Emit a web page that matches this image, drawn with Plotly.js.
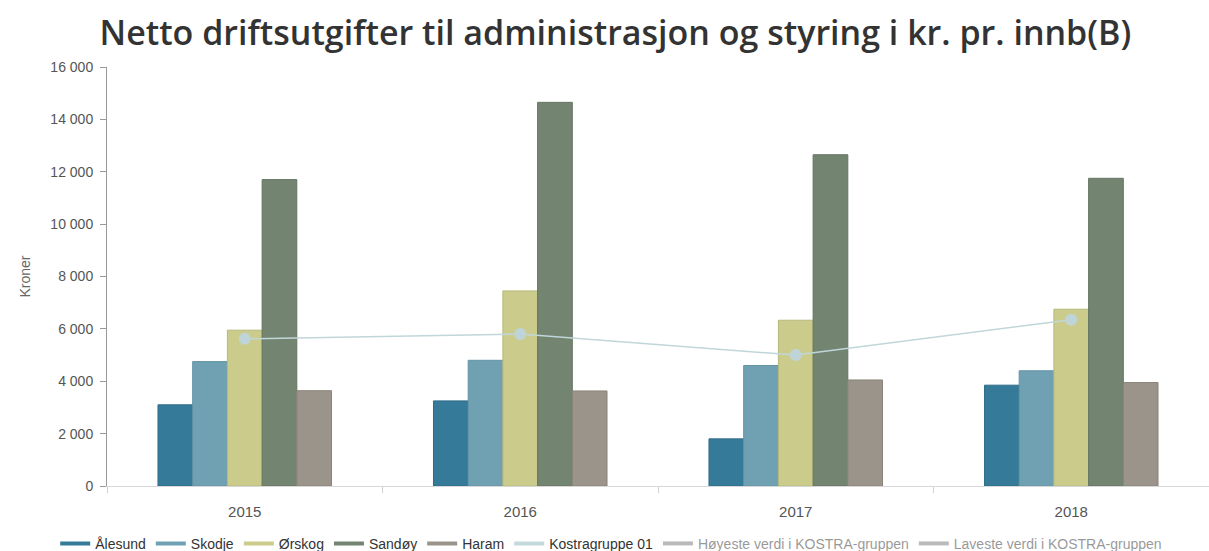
<!DOCTYPE html>
<html>
<head>
<meta charset="utf-8">
<script src="https://cdn.plot.ly/plotly-3.0.1.min.js"></script>
<style>html,body{margin:0;padding:0;background:#fff;}#chart{width:1209px;height:551px;}</style>
</head>
<body>
<div id="chart"></div>
<script>
const years = ['2015', '2016', '2017', '2018'];
const alesund = [3100, 3250, 1800, 3850];
const skodje = [4750, 4800, 4600, 4400];
const orskog = [5950, 7450, 6330, 6750];
const sandoy = [11700, 14650, 12650, 11750];
const haram = [3640, 3630, 4050, 3950];
const kostra = [5620, 5800, 5000, 6350];
const yTicks = [0, 2000, 4000, 6000, 8000, 10000, 12000, 14000, 16000];

const barSeries = [
  {name: 'Ålesund', y: alesund, color: '#367a99', edge: '#2f6c88'},
  {name: 'Skodje', y: skodje, color: '#70a1b3', edge: '#6393a5'},
  {name: 'Ørskog', y: orskog, color: '#cbcc8c', edge: '#b6b87a'},
  {name: 'Sandøy', y: sandoy, color: '#738470', edge: '#657663'},
  {name: 'Haram', y: haram, color: '#9b948a', edge: '#8b847a'}
];

const traces = [];
barSeries.forEach(s => {
  traces.push({
    type: 'bar', x: years, y: s.y, name: s.name, showlegend: false,
    marker: {color: s.color, line: {color: s.edge, width: 1}},
    hoverinfo: 'x+y+name'
  });
});
traces.push({
  type: 'scatter', mode: 'lines+markers', x: years, y: kostra, name: 'Kostragruppe 01',
  showlegend: false,
  line: {color: '#c0d6d8', width: 1.5},
  marker: {color: '#bfd4d6', size: 12}
});
// legend entries
const legendItems = barSeries.map(s => ({name: s.name, color: s.color, vis: true}))
  .concat([{name: 'Kostragruppe 01', color: '#c4d9db', vis: true},
           {name: 'Høyeste verdi i KOSTRA-gruppen', color: '#777', vis: 'legendonly'},
           {name: 'Laveste verdi i KOSTRA-gruppen', color: '#777', vis: 'legendonly'}]);
legendItems.forEach(l => {
  traces.push({
    type: 'scatter', mode: 'lines', x: [null], y: [null], name: l.name,
    visible: l.vis, showlegend: true, hoverinfo: 'skip',
    line: {color: l.color, width: 4}
  });
});

const layout = {
  width: 1209, height: 551,
  margin: {l: 107, r: 0, t: 67, b: 65, autoexpand: false},
  paper_bgcolor: '#fff', plot_bgcolor: '#fff',
  separators: ', ',
  barmode: 'group', bargap: 0.37, bargroupgap: 0,
  font: {family: 'Liberation Sans, Arial, sans-serif', color: '#333'},
  title: {
    text: 'Netto driftsutgifter til administrasjon og styring i kr. pr. innb(B)',
    font: {family: 'Open Sans, sans-serif', size: 34, weight: 600, color: '#333'},
    x: 0.509, xanchor: 'center', y: 0.94, yanchor: 'middle'
  },
  xaxis: {
    type: 'category', showgrid: false, zeroline: false,
    showline: true, linecolor: '#d8d8d8', linewidth: 1,
    ticks: 'outside', tickson: 'boundaries', ticklen: 6, tickcolor: '#d0d0d0',
    ticklabelstandoff: 12,
    tickfont: {size: 15, color: '#555'}, fixedrange: true
  },
  yaxis: {
    range: [0, 16000], tickvals: yTicks, tickformat: ',d',
    showgrid: false, zeroline: false,
    showline: true, linecolor: '#999', linewidth: 1,
    ticks: 'outside', ticklen: 6, tickcolor: '#999',
    ticklabelstandoff: 4,
    tickfont: {size: 14, color: '#555'},
    title: {text: 'Kroner', font: {size: 14, color: '#666'}, standoff: 16},
    fixedrange: true
  },
  showlegend: true,
  legend: {
    orientation: 'h', x: -0.047, xanchor: 'left',
    y: -0.138, yanchor: 'middle',
    font: {size: 14, color: '#333'}, itemwidth: 30, tracegroupgap: 0,
    bgcolor: 'rgba(0,0,0,0)'
  }
};

Plotly.newPlot('chart', traces, layout, {displayModeBar: false});
</script>
</body>
</html>
